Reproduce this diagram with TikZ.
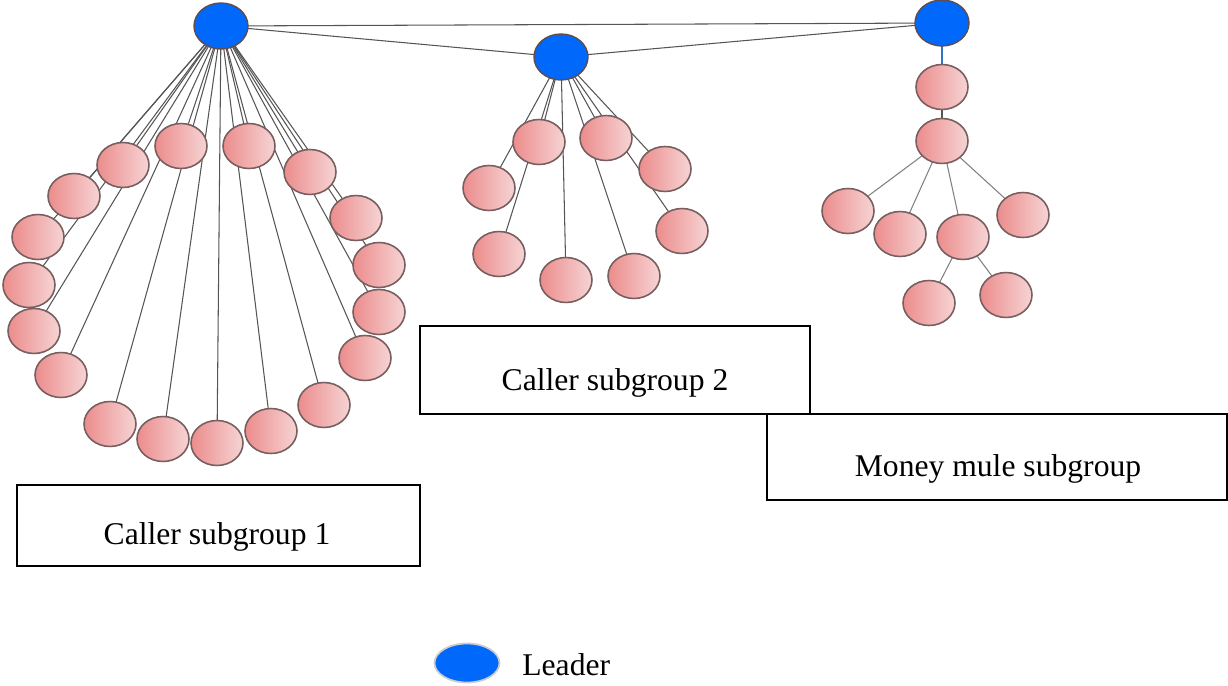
\documentclass[tikz,border=0pt]{standalone}
\usepackage{fontspec}
\setmainfont{Liberation Serif}
\usetikzlibrary{shapes.geometric,backgrounds}
\definecolor{leaderblue}{RGB}{0,104,250}
\definecolor{pinkdark}{RGB}{236,140,140}
\definecolor{pinklight}{RGB}{246,212,212}
\definecolor{rimcol}{RGB}{120,95,95}
\definecolor{edgecol}{RGB}{85,85,85}
\tikzset{
  leader/.style={ellipse,draw=rimcol!80!black,line width=0.8pt,fill=leaderblue,
    minimum width=1.08cm,minimum height=0.92cm,inner sep=0pt},
  member/.style={ellipse,draw=rimcol,line width=0.9pt,left color=pinkdark,right color=pinklight,
    minimum width=1.04cm,minimum height=0.9cm,inner sep=0pt},
  link/.style={draw=edgecol,line width=0.6pt},
  groupbox/.style={draw=black,line width=1.1pt},
  label/.style={font=\fontsize{18}{21}\selectfont,inner sep=0pt}
}
\begin{document}
\begin{tikzpicture}[x=0.02cm,y=-0.02cm]
\useasboundingbox (0,0) rectangle (1228,686);

% leaders
\node[leader] (L1) at (221,26) {};
\node[leader] (L2) at (561,57) {};
\node[leader] (L3) at (942,23) {};

% caller subgroup 1
\node[member] (a1) at (74,196) {};
\node[member] (a2) at (123,165) {};
\node[member] (a3) at (181,146) {};
\node[member] (a4) at (249,146) {};
\node[member] (a5) at (310,172) {};
\node[member] (a6) at (356,218) {};
\node[member] (a7) at (38,237) {};
\node[member] (a8) at (29,285) {};
\node[member] (a9) at (34,331) {};
\node[member] (a10) at (61,375) {};
\node[member] (a11) at (110,424) {};
\node[member] (a12) at (163,439) {};
\node[member] (a13) at (217,443) {};
\node[member] (a14) at (271,431) {};
\node[member] (a15) at (324,405) {};
\node[member] (a16) at (365,358) {};
\node[member] (a17) at (379,312) {};
\node[member] (a18) at (379,265) {};

% caller subgroup 2
\node[member] (b1) at (539,142) {};
\node[member] (b2) at (606,138) {};
\node[member] (b3) at (665,169) {};
\node[member] (b4) at (489,188) {};
\node[member] (b5) at (682,231) {};
\node[member] (b6) at (499,254) {};
\node[member] (b7) at (566,280) {};
\node[member] (b8) at (634,276) {};

% money mule subgroup
\node[member] (m1) at (942,87) {};
\node[member] (m2) at (942,141) {};
\node[member] (m3) at (848,211) {};
\node[member] (m4) at (900,234) {};
\node[member] (m5) at (963,237) {};
\node[member] (m6) at (1023,215) {};
\node[member] (m7) at (929,303) {};
\node[member] (m8) at (1006,295) {};

\begin{scope}[on background layer]
  \draw[link] (L1.center) -- (L3.center);
  \draw[link] (L1.center) -- (L2.center) -- (L3.center);
  \foreach \n in {1,...,18} \draw[link] (L1.center) -- (a\n.center);
  \foreach \n in {1,...,8} \draw[link] (L2.center) -- (b\n.center);
  \draw[link,draw=leaderblue!60!gray] (L3.center) -- (m1.center);
  \draw[link,line width=0.9pt] (m1.center) -- (m2.center);
  \foreach \n in {3,4,5,6} \draw[link,draw=gray] (m2.center) -- (m\n.center);
  \foreach \n in {7,8} \draw[link,draw=gray] (m5.center) -- (m\n.center);
\end{scope}

% group boxes
\draw[groupbox] (420,326) rectangle (810,414);
\node[label] (t2) at (615,383) {Caller subgroup 2};
\draw[groupbox] (767,414) rectangle (1227,500);
\node[label] (t3) at (998,469) {Money mule subgroup};
\draw[groupbox] (17,485) rectangle (420,566);
\node[label] (t1) at (217,537) {Caller subgroup 1};

% legend
\node[ellipse,draw=gray!40,line width=1pt,fill=leaderblue,minimum width=1.3cm,minimum height=0.78cm,inner sep=0pt] (key) at (467,663) {};
\node[label,anchor=west] (keytext) at (522,665) {Leader};
\end{tikzpicture}
\end{document}
